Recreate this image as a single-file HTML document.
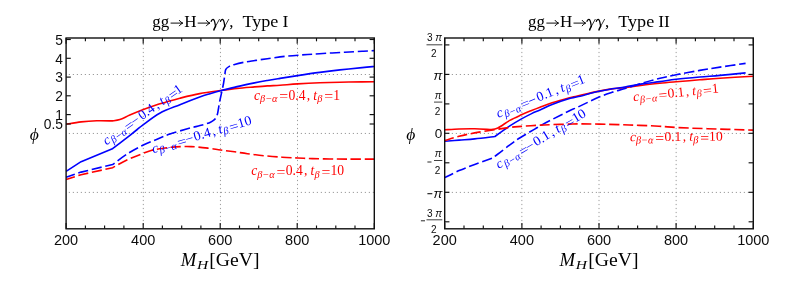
<!DOCTYPE html>
<html><head><meta charset="utf-8"><title>plot</title>
<style>
html,body{margin:0;padding:0;background:#fff;}
svg{display:block;will-change:transform;opacity:0.999}
.tk{font-family:"Liberation Sans",sans-serif;font-size:14.5px;fill:#0c0c0c}
.ser{font-family:"Liberation Serif",serif;}
</style></head><body>
<svg width="797" height="282" viewBox="0 0 797 282">
<rect width="797" height="282" fill="#fff"/>
<line x1="143.30" y1="39.9" x2="143.30" y2="228.8" stroke="#9c9c9c" stroke-width="1" stroke-dasharray="1.2 2.8"/>
<line x1="220.45" y1="39.9" x2="220.45" y2="228.8" stroke="#9c9c9c" stroke-width="1" stroke-dasharray="1.2 2.8"/>
<line x1="297.50" y1="39.9" x2="297.50" y2="228.8" stroke="#9c9c9c" stroke-width="1" stroke-dasharray="1.2 2.8"/>
<line x1="68.80000000000001" y1="74.50" x2="374.3" y2="74.50" stroke="#9c9c9c" stroke-width="1" stroke-dasharray="1.2 2.8"/>
<line x1="68.80000000000001" y1="133.45" x2="374.3" y2="133.45" stroke="#9c9c9c" stroke-width="1" stroke-dasharray="1.2 2.8"/>
<line x1="68.80000000000001" y1="192.40" x2="374.3" y2="192.40" stroke="#9c9c9c" stroke-width="1" stroke-dasharray="1.2 2.8"/>
<line x1="521.85" y1="39.9" x2="521.85" y2="228.8" stroke="#9c9c9c" stroke-width="1" stroke-dasharray="1.2 2.8"/>
<line x1="599.00" y1="39.9" x2="599.00" y2="228.8" stroke="#9c9c9c" stroke-width="1" stroke-dasharray="1.2 2.8"/>
<line x1="676.15" y1="39.9" x2="676.15" y2="228.8" stroke="#9c9c9c" stroke-width="1" stroke-dasharray="1.2 2.8"/>
<line x1="447.79999999999995" y1="74.50" x2="753.3" y2="74.50" stroke="#9c9c9c" stroke-width="1" stroke-dasharray="1.2 2.8"/>
<line x1="447.79999999999995" y1="133.45" x2="753.3" y2="133.45" stroke="#9c9c9c" stroke-width="1" stroke-dasharray="1.2 2.8"/>
<line x1="447.79999999999995" y1="192.40" x2="753.3" y2="192.40" stroke="#9c9c9c" stroke-width="1" stroke-dasharray="1.2 2.8"/>
<path d="M66.10,124.20 C68.60,123.82 76.00,122.47 81.10,121.90 C86.20,121.33 91.48,120.97 96.70,120.80 C101.92,120.63 109.78,120.88 112.40,120.90 C113.65,120.68 117.00,120.57 119.90,119.60 C122.80,118.63 126.00,116.73 129.80,115.10 C133.60,113.47 138.55,111.40 142.70,109.80 C146.85,108.20 150.98,106.73 154.70,105.50 C158.42,104.27 160.80,103.62 165.00,102.40 C169.20,101.18 174.12,99.67 179.90,98.20 C185.68,96.73 192.63,94.92 199.70,93.60 C206.77,92.28 216.07,91.17 222.30,90.30 C228.53,89.43 231.73,88.97 237.10,88.40 C242.47,87.83 249.45,87.32 254.50,86.90 C259.55,86.48 263.15,86.18 267.40,85.90 C271.65,85.62 274.97,85.53 280.00,85.20 C285.03,84.87 290.98,84.30 297.60,83.90 C304.22,83.50 312.63,83.08 319.70,82.80 C326.77,82.52 332.93,82.35 340.00,82.20 C347.07,82.05 356.38,81.98 362.10,81.90 C367.82,81.82 372.27,81.73 374.30,81.70" fill="none" stroke="#ff0000" stroke-width="1.6" stroke-linejoin="round"/>
<path d="M66.10,171.30 L81.10,161.70 L112.40,148.80 C114.13,147.48 118.67,144.12 122.80,140.90 C126.93,137.68 133.93,132.08 137.20,129.50 C140.47,126.92 138.65,128.10 142.40,125.40 C146.15,122.70 153.45,116.75 159.70,113.30 C165.95,109.85 173.23,107.42 179.90,104.70 C186.57,101.98 194.68,98.83 199.70,97.00 C204.72,95.17 206.23,94.82 210.00,93.70 C213.77,92.58 217.78,91.48 222.30,90.30 C226.82,89.12 231.73,87.83 237.10,86.60 C242.47,85.37 249.45,83.92 254.50,82.90 C259.55,81.88 263.15,81.25 267.40,80.50 C271.65,79.75 274.97,79.22 280.00,78.40 C285.03,77.58 290.98,76.60 297.60,75.60 C304.22,74.60 312.63,73.35 319.70,72.40 C326.77,71.45 332.93,70.70 340.00,69.90 C347.07,69.10 356.38,68.17 362.10,67.60 C367.82,67.03 372.27,66.68 374.30,66.50" fill="none" stroke="#0000ff" stroke-width="1.6" stroke-linejoin="round"/>
<path d="M66.10,177.30 L81.10,172.10 L112.60,164.50 C115.10,162.70 122.65,156.87 127.60,153.70 C132.55,150.53 137.38,147.92 142.30,145.50 C147.22,143.08 152.48,141.12 157.10,139.20 C161.72,137.28 164.95,135.73 170.00,134.00 C175.05,132.27 182.40,130.20 187.40,128.80 C192.40,127.40 196.90,126.42 200.00,125.60 C203.10,124.78 204.25,124.47 206.00,123.90 C207.75,123.33 209.20,122.82 210.50,122.20 C211.80,121.58 212.88,120.97 213.80,120.20 C214.72,119.43 215.40,118.60 216.00,117.60 C216.60,116.60 217.00,115.63 217.40,114.20 C217.80,112.77 218.05,111.00 218.40,109.00 C218.75,107.00 218.97,104.93 219.50,102.20 C220.03,99.47 220.92,95.80 221.60,92.60 C222.28,89.40 223.07,85.95 223.60,83.00 C224.13,80.05 224.43,77.17 224.80,74.90 C225.17,72.63 225.05,70.82 225.80,69.40 C226.55,67.98 227.82,67.23 229.30,66.40 C230.78,65.57 232.13,65.12 234.70,64.40 C237.27,63.68 241.32,62.75 244.70,62.10 C248.08,61.45 251.22,61.07 255.00,60.50 C258.78,59.93 262.45,59.38 267.40,58.70 C272.35,58.02 278.92,57.03 284.70,56.40 C290.48,55.77 296.30,55.35 302.10,54.90 C307.90,54.45 312.40,54.15 319.50,53.70 C326.60,53.25 337.60,52.60 344.70,52.20 C351.80,51.80 357.17,51.57 362.10,51.30 C367.03,51.03 372.27,50.72 374.30,50.60" fill="none" stroke="#0000ff" stroke-width="1.6" stroke-linejoin="round" stroke-dasharray="10.2 3.7" stroke-dashoffset="1.0"/>
<path d="M66.10,179.60 L81.10,174.70 L112.60,167.70 C115.10,166.37 122.65,162.03 127.60,159.70 C132.55,157.37 138.25,155.28 142.30,153.70 C146.35,152.12 148.12,151.15 151.90,150.20 C155.68,149.25 161.08,148.55 165.00,148.00 C168.92,147.45 171.05,147.13 175.40,146.90 C179.75,146.67 185.60,146.38 191.10,146.60 C196.60,146.82 203.48,147.63 208.40,148.20 C213.32,148.77 216.25,149.40 220.60,150.00 C224.95,150.60 230.03,151.18 234.50,151.80 C238.97,152.42 242.37,153.03 247.40,153.70 C252.43,154.37 258.92,155.22 264.70,155.80 C270.48,156.38 276.60,156.83 282.10,157.20 C287.60,157.57 292.65,157.77 297.70,158.00 C302.75,158.23 307.05,158.43 312.40,158.60 C317.75,158.77 324.02,158.92 329.80,159.00 C335.58,159.08 339.68,159.08 347.10,159.10 C354.52,159.12 369.77,159.10 374.30,159.10" fill="none" stroke="#ff0000" stroke-width="1.6" stroke-linejoin="round" stroke-dasharray="10.2 3.7" stroke-dashoffset="1.0"/>
<path d="M444.90,129.80 C447.27,129.67 454.13,129.17 459.10,129.00 C464.07,128.83 469.57,128.70 474.70,128.80 C479.83,128.90 487.37,129.47 489.90,129.60 C491.23,129.32 494.58,129.43 497.90,127.90 C501.22,126.37 505.87,122.58 509.80,120.40 C513.73,118.22 517.87,116.45 521.50,114.80 C525.13,113.15 528.52,111.77 531.60,110.50 C534.68,109.23 536.58,108.48 540.00,107.20 C543.42,105.92 547.18,104.37 552.10,102.80 C557.02,101.23 565.28,98.93 569.50,97.80 C573.72,96.67 572.47,97.12 577.40,96.00 C582.33,94.88 593.32,92.28 599.10,91.10 C604.88,89.92 607.78,89.48 612.10,88.90 C616.42,88.32 619.95,88.22 625.00,87.60 C630.05,86.98 636.62,85.92 642.40,85.20 C648.18,84.48 654.07,83.87 659.70,83.30 C665.33,82.73 669.53,82.38 676.20,81.80 C682.87,81.22 692.40,80.40 699.70,79.80 C707.00,79.20 711.07,78.78 720.00,78.20 C728.93,77.62 747.75,76.62 753.30,76.30" fill="none" stroke="#ff0000" stroke-width="1.6" stroke-linejoin="round"/>
<path d="M444.90,141.30 C447.27,141.10 454.13,140.50 459.10,140.10 C464.07,139.70 468.73,139.50 474.70,138.90 C480.67,138.30 491.53,136.90 494.90,136.50 C496.55,135.32 502.32,131.17 504.80,129.40 C507.28,127.63 507.02,127.65 509.80,125.90 C512.58,124.15 517.87,120.95 521.50,118.90 C525.13,116.85 528.52,115.08 531.60,113.60 C534.68,112.12 536.58,111.52 540.00,110.00 C543.42,108.48 547.18,106.40 552.10,104.50 C557.02,102.60 565.28,99.88 569.50,98.60 C573.72,97.32 572.47,98.02 577.40,96.80 C582.33,95.58 593.32,92.63 599.10,91.30 C604.88,89.97 607.78,89.52 612.10,88.80 C616.42,88.08 619.95,87.82 625.00,87.00 C630.05,86.18 636.57,84.80 642.40,83.90 C648.23,83.00 654.37,82.37 660.00,81.60 C665.63,80.83 669.58,80.07 676.20,79.30 C682.82,78.53 692.40,77.65 699.70,77.00 C707.00,76.35 712.35,76.08 720.00,75.40 C727.65,74.72 741.33,73.32 745.60,72.90" fill="none" stroke="#0000ff" stroke-width="1.6" stroke-linejoin="round"/>
<path d="M444.90,177.60 C447.27,176.43 454.13,172.78 459.10,170.60 C464.07,168.42 469.20,166.58 474.70,164.50 C480.20,162.42 489.20,159.17 492.10,158.10 C492.97,157.50 494.40,156.65 497.30,154.50 C500.20,152.35 505.77,147.95 509.50,145.20 C513.23,142.45 515.50,140.68 519.70,138.00 C523.90,135.32 531.32,131.12 534.70,129.10 C538.08,127.08 537.10,127.50 540.00,125.90 C542.90,124.30 547.18,122.02 552.10,119.50 C557.02,116.98 565.28,112.83 569.50,110.80 C573.72,108.77 572.47,109.58 577.40,107.30 C582.33,105.02 593.32,99.60 599.10,97.10 C604.88,94.60 607.78,93.72 612.10,92.30 C616.42,90.88 619.95,90.15 625.00,88.60 C630.05,87.05 636.57,84.72 642.40,83.00 C648.23,81.28 654.37,79.68 660.00,78.30 C665.63,76.92 669.58,76.02 676.20,74.70 C682.82,73.38 692.40,71.67 699.70,70.40 C707.00,69.13 712.35,68.27 720.00,67.10 C727.65,65.93 741.33,64.02 745.60,63.40" fill="none" stroke="#0000ff" stroke-width="1.6" stroke-linejoin="round" stroke-dasharray="10.2 3.7" stroke-dashoffset="1.0"/>
<path d="M444.90,140.50 C447.27,139.80 454.13,137.57 459.10,136.30 C464.07,135.03 468.73,134.00 474.70,132.90 C480.67,131.80 489.05,130.62 494.90,129.70 C500.75,128.78 505.37,127.95 509.80,127.40 C514.23,126.85 516.47,126.78 521.50,126.40 C526.53,126.02 534.90,125.40 540.00,125.10 C545.10,124.80 547.18,124.77 552.10,124.60 C557.02,124.43 565.28,124.22 569.50,124.10 C573.72,123.98 572.47,123.90 577.40,123.90 C582.33,123.90 590.43,123.92 599.10,124.10 C607.77,124.28 619.42,124.65 629.40,125.00 C639.38,125.35 651.12,125.78 659.00,126.20 C666.88,126.62 668.67,127.08 676.70,127.50 C684.73,127.92 694.43,128.27 707.20,128.70 C719.97,129.13 745.62,129.87 753.30,130.10" fill="none" stroke="#ff0000" stroke-width="1.6" stroke-linejoin="round" stroke-dasharray="10.2 3.7" stroke-dashoffset="1.0"/>
<line x1="66.1" y1="38.0" x2="66.1" y2="43.8" stroke="#101010" stroke-width="1.15"/>
<line x1="66.1" y1="228.8" x2="66.1" y2="223.0" stroke="#101010" stroke-width="1.15"/>
<line x1="85.4" y1="38.0" x2="85.4" y2="41.3" stroke="#101010" stroke-width="1.15"/>
<line x1="85.4" y1="228.8" x2="85.4" y2="225.5" stroke="#101010" stroke-width="1.15"/>
<line x1="104.6" y1="38.0" x2="104.6" y2="41.3" stroke="#101010" stroke-width="1.15"/>
<line x1="104.6" y1="228.8" x2="104.6" y2="225.5" stroke="#101010" stroke-width="1.15"/>
<line x1="123.9" y1="38.0" x2="123.9" y2="41.3" stroke="#101010" stroke-width="1.15"/>
<line x1="123.9" y1="228.8" x2="123.9" y2="225.5" stroke="#101010" stroke-width="1.15"/>
<line x1="143.2" y1="38.0" x2="143.2" y2="43.8" stroke="#101010" stroke-width="1.15"/>
<line x1="143.2" y1="228.8" x2="143.2" y2="223.0" stroke="#101010" stroke-width="1.15"/>
<line x1="162.4" y1="38.0" x2="162.4" y2="41.3" stroke="#101010" stroke-width="1.15"/>
<line x1="162.4" y1="228.8" x2="162.4" y2="225.5" stroke="#101010" stroke-width="1.15"/>
<line x1="181.7" y1="38.0" x2="181.7" y2="41.3" stroke="#101010" stroke-width="1.15"/>
<line x1="181.7" y1="228.8" x2="181.7" y2="225.5" stroke="#101010" stroke-width="1.15"/>
<line x1="200.9" y1="38.0" x2="200.9" y2="41.3" stroke="#101010" stroke-width="1.15"/>
<line x1="200.9" y1="228.8" x2="200.9" y2="225.5" stroke="#101010" stroke-width="1.15"/>
<line x1="220.2" y1="38.0" x2="220.2" y2="43.8" stroke="#101010" stroke-width="1.15"/>
<line x1="220.2" y1="228.8" x2="220.2" y2="223.0" stroke="#101010" stroke-width="1.15"/>
<line x1="239.5" y1="38.0" x2="239.5" y2="41.3" stroke="#101010" stroke-width="1.15"/>
<line x1="239.5" y1="228.8" x2="239.5" y2="225.5" stroke="#101010" stroke-width="1.15"/>
<line x1="258.7" y1="38.0" x2="258.7" y2="41.3" stroke="#101010" stroke-width="1.15"/>
<line x1="258.7" y1="228.8" x2="258.7" y2="225.5" stroke="#101010" stroke-width="1.15"/>
<line x1="278.0" y1="38.0" x2="278.0" y2="41.3" stroke="#101010" stroke-width="1.15"/>
<line x1="278.0" y1="228.8" x2="278.0" y2="225.5" stroke="#101010" stroke-width="1.15"/>
<line x1="297.2" y1="38.0" x2="297.2" y2="43.8" stroke="#101010" stroke-width="1.15"/>
<line x1="297.2" y1="228.8" x2="297.2" y2="223.0" stroke="#101010" stroke-width="1.15"/>
<line x1="316.5" y1="38.0" x2="316.5" y2="41.3" stroke="#101010" stroke-width="1.15"/>
<line x1="316.5" y1="228.8" x2="316.5" y2="225.5" stroke="#101010" stroke-width="1.15"/>
<line x1="335.8" y1="38.0" x2="335.8" y2="41.3" stroke="#101010" stroke-width="1.15"/>
<line x1="335.8" y1="228.8" x2="335.8" y2="225.5" stroke="#101010" stroke-width="1.15"/>
<line x1="355.0" y1="38.0" x2="355.0" y2="41.3" stroke="#101010" stroke-width="1.15"/>
<line x1="355.0" y1="228.8" x2="355.0" y2="225.5" stroke="#101010" stroke-width="1.15"/>
<line x1="374.3" y1="38.0" x2="374.3" y2="43.8" stroke="#101010" stroke-width="1.15"/>
<line x1="374.3" y1="228.8" x2="374.3" y2="223.0" stroke="#101010" stroke-width="1.15"/>
<line x1="66.1" y1="39.5" x2="70.8" y2="39.5" stroke="#101010" stroke-width="1.15"/>
<line x1="374.3" y1="39.5" x2="369.6" y2="39.5" stroke="#101010" stroke-width="1.15"/>
<line x1="66.1" y1="58.3" x2="70.8" y2="58.3" stroke="#101010" stroke-width="1.15"/>
<line x1="374.3" y1="58.3" x2="369.6" y2="58.3" stroke="#101010" stroke-width="1.15"/>
<line x1="66.1" y1="77.1" x2="70.8" y2="77.1" stroke="#101010" stroke-width="1.15"/>
<line x1="374.3" y1="77.1" x2="369.6" y2="77.1" stroke="#101010" stroke-width="1.15"/>
<line x1="66.1" y1="95.8" x2="70.8" y2="95.8" stroke="#101010" stroke-width="1.15"/>
<line x1="374.3" y1="95.8" x2="369.6" y2="95.8" stroke="#101010" stroke-width="1.15"/>
<line x1="66.1" y1="114.6" x2="70.8" y2="114.6" stroke="#101010" stroke-width="1.15"/>
<line x1="374.3" y1="114.6" x2="369.6" y2="114.6" stroke="#101010" stroke-width="1.15"/>
<line x1="66.1" y1="124.0" x2="70.8" y2="124.0" stroke="#101010" stroke-width="1.15"/>
<line x1="374.3" y1="124.0" x2="369.6" y2="124.0" stroke="#101010" stroke-width="1.15"/>
<rect x="66.1" y="38.0" width="308.2" height="190.8" fill="none" stroke="#101010" stroke-width="1.4"/>
<text x="66.1" y="244.9" text-anchor="middle" class="tk">200</text>
<text x="143.2" y="244.9" text-anchor="middle" class="tk">400</text>
<text x="220.2" y="244.9" text-anchor="middle" class="tk">600</text>
<text x="297.2" y="244.9" text-anchor="middle" class="tk">800</text>
<text x="374.3" y="244.9" text-anchor="middle" class="tk">1000</text>
<line x1="444.7" y1="38.0" x2="444.7" y2="43.8" stroke="#101010" stroke-width="1.15"/>
<line x1="444.7" y1="228.8" x2="444.7" y2="223.0" stroke="#101010" stroke-width="1.15"/>
<line x1="464.0" y1="38.0" x2="464.0" y2="41.3" stroke="#101010" stroke-width="1.15"/>
<line x1="464.0" y1="228.8" x2="464.0" y2="225.5" stroke="#101010" stroke-width="1.15"/>
<line x1="483.3" y1="38.0" x2="483.3" y2="41.3" stroke="#101010" stroke-width="1.15"/>
<line x1="483.3" y1="228.8" x2="483.3" y2="225.5" stroke="#101010" stroke-width="1.15"/>
<line x1="502.6" y1="38.0" x2="502.6" y2="41.3" stroke="#101010" stroke-width="1.15"/>
<line x1="502.6" y1="228.8" x2="502.6" y2="225.5" stroke="#101010" stroke-width="1.15"/>
<line x1="521.9" y1="38.0" x2="521.9" y2="43.8" stroke="#101010" stroke-width="1.15"/>
<line x1="521.9" y1="228.8" x2="521.9" y2="223.0" stroke="#101010" stroke-width="1.15"/>
<line x1="541.1" y1="38.0" x2="541.1" y2="41.3" stroke="#101010" stroke-width="1.15"/>
<line x1="541.1" y1="228.8" x2="541.1" y2="225.5" stroke="#101010" stroke-width="1.15"/>
<line x1="560.4" y1="38.0" x2="560.4" y2="41.3" stroke="#101010" stroke-width="1.15"/>
<line x1="560.4" y1="228.8" x2="560.4" y2="225.5" stroke="#101010" stroke-width="1.15"/>
<line x1="579.7" y1="38.0" x2="579.7" y2="41.3" stroke="#101010" stroke-width="1.15"/>
<line x1="579.7" y1="228.8" x2="579.7" y2="225.5" stroke="#101010" stroke-width="1.15"/>
<line x1="599.0" y1="38.0" x2="599.0" y2="43.8" stroke="#101010" stroke-width="1.15"/>
<line x1="599.0" y1="228.8" x2="599.0" y2="223.0" stroke="#101010" stroke-width="1.15"/>
<line x1="618.3" y1="38.0" x2="618.3" y2="41.3" stroke="#101010" stroke-width="1.15"/>
<line x1="618.3" y1="228.8" x2="618.3" y2="225.5" stroke="#101010" stroke-width="1.15"/>
<line x1="637.6" y1="38.0" x2="637.6" y2="41.3" stroke="#101010" stroke-width="1.15"/>
<line x1="637.6" y1="228.8" x2="637.6" y2="225.5" stroke="#101010" stroke-width="1.15"/>
<line x1="656.9" y1="38.0" x2="656.9" y2="41.3" stroke="#101010" stroke-width="1.15"/>
<line x1="656.9" y1="228.8" x2="656.9" y2="225.5" stroke="#101010" stroke-width="1.15"/>
<line x1="676.1" y1="38.0" x2="676.1" y2="43.8" stroke="#101010" stroke-width="1.15"/>
<line x1="676.1" y1="228.8" x2="676.1" y2="223.0" stroke="#101010" stroke-width="1.15"/>
<line x1="695.4" y1="38.0" x2="695.4" y2="41.3" stroke="#101010" stroke-width="1.15"/>
<line x1="695.4" y1="228.8" x2="695.4" y2="225.5" stroke="#101010" stroke-width="1.15"/>
<line x1="714.7" y1="38.0" x2="714.7" y2="41.3" stroke="#101010" stroke-width="1.15"/>
<line x1="714.7" y1="228.8" x2="714.7" y2="225.5" stroke="#101010" stroke-width="1.15"/>
<line x1="734.0" y1="38.0" x2="734.0" y2="41.3" stroke="#101010" stroke-width="1.15"/>
<line x1="734.0" y1="228.8" x2="734.0" y2="225.5" stroke="#101010" stroke-width="1.15"/>
<line x1="753.3" y1="38.0" x2="753.3" y2="43.8" stroke="#101010" stroke-width="1.15"/>
<line x1="753.3" y1="228.8" x2="753.3" y2="223.0" stroke="#101010" stroke-width="1.15"/>
<line x1="444.7" y1="44.9" x2="449.4" y2="44.9" stroke="#101010" stroke-width="1.15"/>
<line x1="753.3" y1="44.9" x2="748.5999999999999" y2="44.9" stroke="#101010" stroke-width="1.15"/>
<line x1="444.7" y1="74.4" x2="449.4" y2="74.4" stroke="#101010" stroke-width="1.15"/>
<line x1="753.3" y1="74.4" x2="748.5999999999999" y2="74.4" stroke="#101010" stroke-width="1.15"/>
<line x1="444.7" y1="103.9" x2="449.4" y2="103.9" stroke="#101010" stroke-width="1.15"/>
<line x1="753.3" y1="103.9" x2="748.5999999999999" y2="103.9" stroke="#101010" stroke-width="1.15"/>
<line x1="444.7" y1="133.3" x2="449.4" y2="133.3" stroke="#101010" stroke-width="1.15"/>
<line x1="753.3" y1="133.3" x2="748.5999999999999" y2="133.3" stroke="#101010" stroke-width="1.15"/>
<line x1="444.7" y1="162.8" x2="449.4" y2="162.8" stroke="#101010" stroke-width="1.15"/>
<line x1="753.3" y1="162.8" x2="748.5999999999999" y2="162.8" stroke="#101010" stroke-width="1.15"/>
<line x1="444.7" y1="192.3" x2="449.4" y2="192.3" stroke="#101010" stroke-width="1.15"/>
<line x1="753.3" y1="192.3" x2="748.5999999999999" y2="192.3" stroke="#101010" stroke-width="1.15"/>
<line x1="444.7" y1="221.8" x2="449.4" y2="221.8" stroke="#101010" stroke-width="1.15"/>
<line x1="753.3" y1="221.8" x2="748.5999999999999" y2="221.8" stroke="#101010" stroke-width="1.15"/>
<rect x="444.7" y="38.0" width="308.6" height="190.8" fill="none" stroke="#101010" stroke-width="1.4"/>
<text x="444.7" y="244.9" text-anchor="middle" class="tk">200</text>
<text x="521.9" y="244.9" text-anchor="middle" class="tk">400</text>
<text x="599.0" y="244.9" text-anchor="middle" class="tk">600</text>
<text x="676.1" y="244.9" text-anchor="middle" class="tk">800</text>
<text x="753.3" y="244.9" text-anchor="middle" class="tk">1000</text>
<text x="63.0" y="44.7" text-anchor="end" class="tk" style="font-size:13.8px">5</text>
<text x="63.0" y="63.5" text-anchor="end" class="tk" style="font-size:13.8px">4</text>
<text x="63.0" y="82.3" text-anchor="end" class="tk" style="font-size:13.8px">3</text>
<text x="63.0" y="101.0" text-anchor="end" class="tk" style="font-size:13.8px">2</text>
<text x="63.0" y="119.8" text-anchor="end" class="tk" style="font-size:13.8px">1</text>
<text x="63.0" y="129.2" text-anchor="end" class="tk" style="font-size:13.8px">0.5</text>
<line x1="426.5" y1="44.8" x2="442.3" y2="44.8" stroke="#101010" stroke-width="0.8"/>
<text x="434.4" y="40.9" text-anchor="middle" class="tk" style="font-size:10px">3 <tspan font-style="italic">π</tspan></text>
<text x="433.8" y="57.2" text-anchor="middle" class="tk" style="font-size:10px">2</text>
<line x1="426.5" y1="219.8" x2="442.3" y2="219.8" stroke="#101010" stroke-width="0.8"/>
<text x="434.4" y="216.9" text-anchor="middle" class="tk" style="font-size:10px">3 <tspan font-style="italic">π</tspan></text>
<text x="433.8" y="232.8" text-anchor="middle" class="tk" style="font-size:10px">2</text>
<line x1="420.9" y1="220.8" x2="425.0" y2="220.8" stroke="#101010" stroke-width="0.9"/>
<line x1="434.0" y1="102.1" x2="442.3" y2="102.1" stroke="#101010" stroke-width="0.8"/>
<text x="438.2" y="98.7" text-anchor="middle" class="tk" style="font-size:10px"><tspan font-style="italic">π</tspan></text>
<text x="437.6" y="114.7" text-anchor="middle" class="tk" style="font-size:10px">2</text>
<line x1="434.0" y1="160.5" x2="442.3" y2="160.5" stroke="#101010" stroke-width="0.8"/>
<text x="438.2" y="157.4" text-anchor="middle" class="tk" style="font-size:10px"><tspan font-style="italic">π</tspan></text>
<text x="437.6" y="173.5" text-anchor="middle" class="tk" style="font-size:10px">2</text>
<line x1="427.4" y1="162.0" x2="431.5" y2="162.0" stroke="#101010" stroke-width="0.9"/>
<text x="442.3" y="80.1" text-anchor="end" class="tk" style="font-size:13.3px"><tspan font-style="italic">π</tspan></text>
<text x="442.3" y="197.9" text-anchor="end" class="tk" style="font-size:13.3px"><tspan font-style="italic">π</tspan></text>
<line x1="427.4" y1="193.7" x2="432.3" y2="193.7" stroke="#101010" stroke-width="1.1"/>
<text x="442.3" y="138.4" text-anchor="end" class="tk" style="font-size:13.5px">0</text>
<text x="34.3" y="139.7" text-anchor="middle" class="ser" style="font-size:17.5px;font-style:italic">ϕ</text>
<text x="410.8" y="139.9" text-anchor="middle" class="ser" style="font-size:17.5px;font-style:italic">ϕ</text>
<text x="152.2" y="26.6" class="ser" style="font-size:17px" textLength="16.9" lengthAdjust="spacingAndGlyphs" fill="#000">gg</text>
<path d="M170.6,23.1 L182.4,23.1" stroke="#000" stroke-width="0.95" fill="none"/>
<path d="M179.3,20.400000000000002 Q180.7,22.5 182.9,23.1 Q180.7,23.700000000000003 179.3,25.8" stroke="#000" stroke-width="0.95" fill="none" stroke-linecap="round"/>
<text x="184.3" y="26.6" class="ser" style="font-size:17px" textLength="12.3" lengthAdjust="spacingAndGlyphs" fill="#000">H</text>
<path d="M197.7,23.1 L209.5,23.1" stroke="#000" stroke-width="0.95" fill="none"/>
<path d="M206.4,20.400000000000002 Q207.8,22.5 210.0,23.1 Q207.8,23.700000000000003 206.4,25.8" stroke="#000" stroke-width="0.95" fill="none" stroke-linecap="round"/>
<g transform="translate(210.3,26.6)" fill="none" stroke="#000" stroke-linecap="round"><path d="M0.9,-5.2 C1.4,-6.8 2.4,-7.5 3.3,-7.0 C4.5,-6.3 4.8,-3 5.2,-0.2" stroke-width="1.25"/><path d="M9.1,-7.2 L5.2,-0.2" stroke-width="0.8"/><path d="M5.2,-0.2 C4.2,1.6 3.6,2.8 3.6,3.5" stroke-width="1.5"/></g>
<g transform="translate(219.6,26.6)" fill="none" stroke="#000" stroke-linecap="round"><path d="M0.9,-5.2 C1.4,-6.8 2.4,-7.5 3.3,-7.0 C4.5,-6.3 4.8,-3 5.2,-0.2" stroke-width="1.25"/><path d="M9.1,-7.2 L5.2,-0.2" stroke-width="0.8"/><path d="M5.2,-0.2 C4.2,1.6 3.6,2.8 3.6,3.5" stroke-width="1.5"/></g>
<text x="229.3" y="26.6" class="ser" style="font-size:17px" fill="#000">,</text>
<text x="242.4" y="26.6" class="ser" style="font-size:17px" textLength="36.0" lengthAdjust="spacingAndGlyphs" fill="#000">Type</text>
<text x="282.5" y="26.6" class="ser" style="font-size:17px" textLength="5.9" lengthAdjust="spacingAndGlyphs" fill="#000">I</text>
<text x="528.0" y="26.6" class="ser" style="font-size:17px" textLength="16.9" lengthAdjust="spacingAndGlyphs" fill="#000">gg</text>
<path d="M546.4,23.1 L558.2,23.1" stroke="#000" stroke-width="0.95" fill="none"/>
<path d="M555.1,20.400000000000002 Q556.5,22.5 558.7,23.1 Q556.5,23.700000000000003 555.1,25.8" stroke="#000" stroke-width="0.95" fill="none" stroke-linecap="round"/>
<text x="560.1" y="26.6" class="ser" style="font-size:17px" textLength="12.3" lengthAdjust="spacingAndGlyphs" fill="#000">H</text>
<path d="M573.5,23.1 L585.3,23.1" stroke="#000" stroke-width="0.95" fill="none"/>
<path d="M582.2,20.400000000000002 Q583.6,22.5 585.8,23.1 Q583.6,23.700000000000003 582.2,25.8" stroke="#000" stroke-width="0.95" fill="none" stroke-linecap="round"/>
<g transform="translate(586.1,26.6)" fill="none" stroke="#000" stroke-linecap="round"><path d="M0.9,-5.2 C1.4,-6.8 2.4,-7.5 3.3,-7.0 C4.5,-6.3 4.8,-3 5.2,-0.2" stroke-width="1.25"/><path d="M9.1,-7.2 L5.2,-0.2" stroke-width="0.8"/><path d="M5.2,-0.2 C4.2,1.6 3.6,2.8 3.6,3.5" stroke-width="1.5"/></g>
<g transform="translate(595.4,26.6)" fill="none" stroke="#000" stroke-linecap="round"><path d="M0.9,-5.2 C1.4,-6.8 2.4,-7.5 3.3,-7.0 C4.5,-6.3 4.8,-3 5.2,-0.2" stroke-width="1.25"/><path d="M9.1,-7.2 L5.2,-0.2" stroke-width="0.8"/><path d="M5.2,-0.2 C4.2,1.6 3.6,2.8 3.6,3.5" stroke-width="1.5"/></g>
<text x="605.1" y="26.6" class="ser" style="font-size:17px" fill="#000">,</text>
<text x="618.2" y="26.6" class="ser" style="font-size:17px" textLength="36.0" lengthAdjust="spacingAndGlyphs" fill="#000">Type</text>
<text x="658.3" y="26.6" class="ser" style="font-size:17px" textLength="11.6" lengthAdjust="spacingAndGlyphs" fill="#000">II</text>
<text x="180.7" y="266.3" class="ser" style="font-size:19px" font-style="italic" textLength="15.6" lengthAdjust="spacingAndGlyphs">M</text>
<text x="196.9" y="269.4" class="ser" style="font-size:13.3px" font-style="italic" textLength="11.2" lengthAdjust="spacingAndGlyphs">H</text>
<text x="209.3" y="266.3" class="ser" style="font-size:19px" textLength="50.3" lengthAdjust="spacingAndGlyphs">[GeV]</text>
<text x="559.6" y="266.3" class="ser" style="font-size:19px" font-style="italic" textLength="15.6" lengthAdjust="spacingAndGlyphs">M</text>
<text x="575.8" y="269.4" class="ser" style="font-size:13.3px" font-style="italic" textLength="11.2" lengthAdjust="spacingAndGlyphs">H</text>
<text x="588.2" y="266.3" class="ser" style="font-size:19px" textLength="50.3" lengthAdjust="spacingAndGlyphs">[GeV]</text>
<g transform="translate(254.00,100.00) rotate(0.00) scale(1.0000,1)" class="ser" fill="#ff0000"><text x="0.0" y="0" font-size="13.6px" font-style="italic">c</text><text x="6.0" y="2.4" font-size="10.3px" font-style="italic">β−α</text><text x="25.3" y="1.4" font-size="13.6px" textLength="8.9" lengthAdjust="spacingAndGlyphs">=</text><text x="34.5" y="0" font-size="13.6px">0.4</text><text x="52.8" y="0" font-size="13.6px">,</text><text x="59.3" y="0" font-size="13.6px" font-style="italic">t</text><text x="63.3" y="2.4" font-size="10.3px" font-style="italic">β</text><text x="70.3" y="1.4" font-size="13.6px" textLength="8.9" lengthAdjust="spacingAndGlyphs">=</text><text x="79.2" y="0" font-size="13.6px">1</text></g>
<g transform="translate(251.20,175.40) rotate(0.00) scale(1.0000,1)" class="ser" fill="#ff0000"><text x="0.0" y="0" font-size="13.6px" font-style="italic">c</text><text x="6.0" y="2.4" font-size="10.3px" font-style="italic">β−α</text><text x="25.3" y="1.4" font-size="13.6px" textLength="8.9" lengthAdjust="spacingAndGlyphs">=</text><text x="34.5" y="0" font-size="13.6px">0.4</text><text x="52.8" y="0" font-size="13.6px">,</text><text x="59.3" y="0" font-size="13.6px" font-style="italic">t</text><text x="63.3" y="2.4" font-size="10.3px" font-style="italic">β</text><text x="70.3" y="1.4" font-size="13.6px" textLength="8.9" lengthAdjust="spacingAndGlyphs">=</text><text x="79.2" y="0" font-size="13.6px">10</text></g>
<g transform="translate(106.40,145.60) rotate(-35.51) scale(1.0074,1)" class="ser" fill="#0000ff"><text x="0.0" y="0" font-size="13.6px" font-style="italic">c</text><text x="7.0" y="2.4" font-size="10.3px" font-style="italic">β−α</text><text x="25.8" y="1.4" font-size="13.6px" textLength="8.9" lengthAdjust="spacingAndGlyphs">=</text><text x="33.9" y="0.6" font-size="13.6px">−</text><text x="43.3" y="0" font-size="13.6px">0.4</text><text x="62.1" y="0" font-size="13.6px">,</text><text x="68.6" y="0" font-size="13.6px" font-style="italic">t</text><text x="73.1" y="2.4" font-size="10.3px" font-style="italic">β</text><text x="79.3" y="1.4" font-size="13.6px" textLength="8.9" lengthAdjust="spacingAndGlyphs">=</text><text x="87.0" y="0" font-size="13.6px">1</text></g>
<g transform="translate(153.20,153.30) rotate(-16.44) scale(1.0290,1)" class="ser" fill="#0000ff"><text x="0.0" y="0" font-size="13.6px" font-style="italic">c</text><text x="6.6" y="2.4" font-size="10.3px" font-style="italic">β−α</text><text x="25.6" y="1.4" font-size="13.6px" textLength="8.9" lengthAdjust="spacingAndGlyphs">=</text><text x="33.9" y="0.6" font-size="13.6px">−</text><text x="42.3" y="0" font-size="13.6px">0.4</text><text x="60.6" y="0" font-size="13.6px">,</text><text x="67.1" y="0" font-size="13.6px" font-style="italic">t</text><text x="71.4" y="2.4" font-size="10.3px" font-style="italic">β</text><text x="78.1" y="1.4" font-size="13.6px" textLength="8.9" lengthAdjust="spacingAndGlyphs">=</text><text x="87.0" y="0" font-size="13.6px">10</text></g>
<g transform="translate(633.60,101.20) rotate(-5.88) scale(0.9994,1)" class="ser" fill="#ff0000"><text x="0.0" y="0" font-size="13.6px" font-style="italic">c</text><text x="6.4" y="2.4" font-size="10.3px" font-style="italic">β−α</text><text x="25.5" y="1.4" font-size="13.6px" textLength="8.9" lengthAdjust="spacingAndGlyphs">=</text><text x="34.5" y="0" font-size="13.6px">0.1</text><text x="52.8" y="0" font-size="13.6px">,</text><text x="59.3" y="0" font-size="13.6px" font-style="italic">t</text><text x="63.5" y="2.4" font-size="10.3px" font-style="italic">β</text><text x="70.3" y="1.4" font-size="13.6px" textLength="8.9" lengthAdjust="spacingAndGlyphs">=</text><text x="79.2" y="0" font-size="13.6px">1</text></g>
<g transform="translate(629.90,141.20) rotate(-0.37) scale(1.0000,1)" class="ser" fill="#ff0000"><text x="0.0" y="0" font-size="13.6px" font-style="italic">c</text><text x="6.0" y="2.4" font-size="10.3px" font-style="italic">β−α</text><text x="25.3" y="1.4" font-size="13.6px" textLength="8.9" lengthAdjust="spacingAndGlyphs">=</text><text x="34.5" y="0" font-size="13.6px">0.1</text><text x="52.8" y="0" font-size="13.6px">,</text><text x="59.3" y="0" font-size="13.6px" font-style="italic">t</text><text x="63.3" y="2.4" font-size="10.3px" font-style="italic">β</text><text x="70.3" y="1.4" font-size="13.6px" textLength="8.9" lengthAdjust="spacingAndGlyphs">=</text><text x="79.2" y="0" font-size="13.6px">10</text></g>
<g transform="translate(498.30,118.00) rotate(-22.09) scale(1.0059,1)" class="ser" fill="#0000ff"><text x="0.0" y="0" font-size="13.6px" font-style="italic">c</text><text x="7.0" y="2.4" font-size="10.3px" font-style="italic">β−α</text><text x="25.8" y="1.4" font-size="13.6px" textLength="8.9" lengthAdjust="spacingAndGlyphs">=</text><text x="33.9" y="0.6" font-size="13.6px">−</text><text x="43.2" y="0" font-size="13.6px">0.1</text><text x="61.9" y="0" font-size="13.6px">,</text><text x="68.4" y="0" font-size="13.6px" font-style="italic">t</text><text x="72.9" y="2.4" font-size="10.3px" font-style="italic">β</text><text x="79.1" y="1.4" font-size="13.6px" textLength="8.9" lengthAdjust="spacingAndGlyphs">=</text><text x="87.0" y="0" font-size="13.6px">1</text></g>
<g transform="translate(498.80,169.10) rotate(-31.14) scale(1.0252,1)" class="ser" fill="#0000ff"><text x="0.0" y="0" font-size="13.6px" font-style="italic">c</text><text x="7.0" y="2.4" font-size="10.3px" font-style="italic">β−α</text><text x="25.8" y="1.4" font-size="13.6px" textLength="8.9" lengthAdjust="spacingAndGlyphs">=</text><text x="33.9" y="0.6" font-size="13.6px">−</text><text x="42.6" y="0" font-size="13.6px">0.1</text><text x="61.0" y="0" font-size="13.6px">,</text><text x="67.5" y="0" font-size="13.6px" font-style="italic">t</text><text x="72.0" y="2.4" font-size="10.3px" font-style="italic">β</text><text x="78.4" y="1.4" font-size="13.6px" textLength="8.9" lengthAdjust="spacingAndGlyphs">=</text><text x="87.0" y="0" font-size="13.6px">10</text></g>
</svg>
</body></html>
